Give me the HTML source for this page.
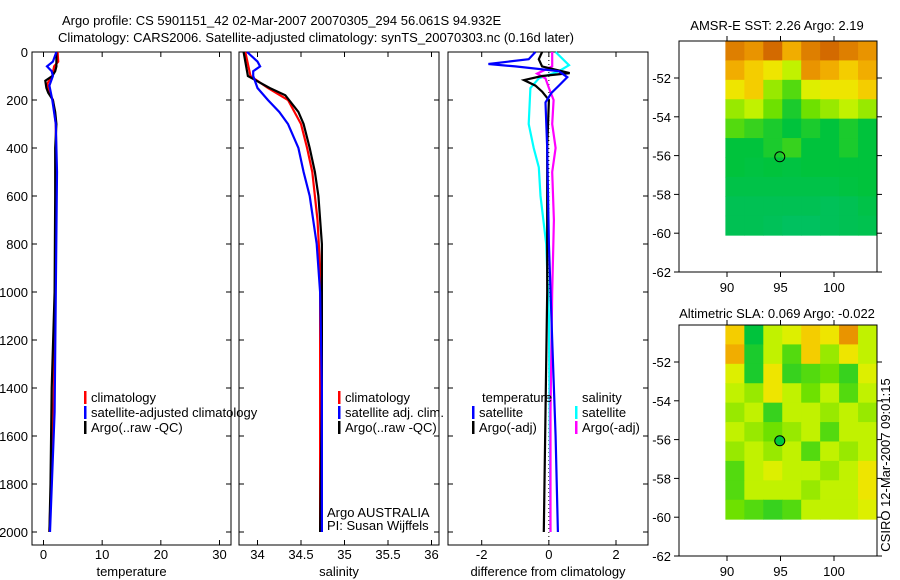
<!DOCTYPE html>
<html><head><meta charset="utf-8"><style>
html,body{margin:0;padding:0;background:#fff;width:900px;height:580px;overflow:hidden}
svg{display:block;font-family:"Liberation Sans",sans-serif;font-size:13px}
</style></head><body>
<svg id="fig" width="900" height="580" viewBox="0 0 900 580">
<text x="62" y="25">Argo profile: CS 5901151_42 02-Mar-2007 20070305_294 56.061S 94.932E</text>
<text x="58" y="42">Climatology: CARS2006. Satellite-adjusted climatology: synTS_20070303.nc (0.16d later)</text>
<text x="777" y="30" text-anchor="middle">AMSR-E SST: 2.26 Argo: 2.19</text>
<text x="777" y="318" text-anchor="middle">Altimetric SLA: 0.069 Argo: -0.022</text>
<text transform="translate(890,465) rotate(-90)" text-anchor="middle">CSIRO 12-Mar-2007 09:01:15</text>
<g id="g"></g>
</svg>
<script>
// ---- data ----
const depthTicks=[0,200,400,600,800,1000,1200,1400,1600,1800,2000];
const tempTicks=[0,10,20,30];
const salTicks=[34,34.5,35,35.5,36];
const diffTicks=[-2,0,2];
const tempClimDepth=[0,40,60,100,130,160,200,300,500,1000,1500,2000];
const tempClim=[2.4,2.5,1.8,1.5,0.7,0.8,1.6,2.1,2.2,2.0,1.7,1.0];
const tempSatDepth=[0,40,60,80,100,140,200,300,500,1000,1500,2000];
const tempSat=[2.2,1.6,0.6,1.4,1.6,1.0,1.5,2.1,2.3,2.1,1.9,1.1];
const tempArgoDepth=[0,60,80,100,120,150,170,200,250,300,400,600,1000,1400,1800,2000];
const tempArgo=[2.2,2.2,2.0,1.5,0.3,0.5,0.8,1.6,2.0,2.2,2.0,2.0,1.9,1.4,1.2,1.0];
const salClimDepth=[0,100,150,200,300,400,500,700,900,2000];
const salClim=[33.86,33.92,34.12,34.35,34.5,34.57,34.63,34.69,34.72,34.72];
const salSatDepth=[0,40,60,80,100,150,200,250,300,400,500,600,800,1000,1400,2000];
const salSat=[33.88,34.0,34.03,33.95,33.95,34.0,34.12,34.25,34.35,34.47,34.53,34.6,34.68,34.72,34.74,34.74];
const salArgoDepth=[0,100,150,180,250,300,400,500,600,800,1000,1400,2000];
const salArgo=[33.84,33.89,34.14,34.32,34.47,34.53,34.6,34.66,34.7,34.74,34.74,34.74,34.72];
const dTSatDepth=[0,30,50,60,80,105,140,170,210,400,800,1200,1600,2000];
const dTSat=[-0.4,-0.6,-1.8,-1.0,0.3,0.55,0.3,0.08,-0.1,-0.05,0,0.1,0.2,0.27];
const dTArgoDepth=[0,30,60,88,100,117,140,165,200,400,1000,1500,2000];
const dTArgo=[-0.2,-0.3,-0.2,0.62,-0.2,-0.74,-0.4,-0.2,0,-0.05,-0.05,-0.1,-0.15];
const dSSatDepth=[0,55,80,110,150,300,400,480,600,800,1100,2000];
const dSSat=[0.2,0.6,0.3,-0.3,-0.55,-0.6,-0.45,-0.3,-0.25,-0.08,0,0.05];
const dSArgoDepth=[0,60,90,110,150,200,300,400,500,700,1000,1500,2000];
const dSArgo=[0.1,0.1,-0.35,-0.1,0,0.14,0.1,0.2,0.1,0.15,0.1,0.05,0.05];
const latTicks=[-52,-54,-56,-58,-60,-62];
const lonTicks=[90,95,100];
const sstGrid=[
[.9,.85,.95,.8,.9,.95,.9,.85],[.8,.75,.7,.6,.85,.8,.75,.8],[.7,.75,.55,.45,.65,.7,.7,.75],
[.55,.6,.5,.35,.5,.55,.6,.55],[.45,.4,.35,.3,.35,.3,.35,.3],[.3,.3,.35,.4,.3,.3,.35,.3],
[.3,.28,.3,.28,.3,.3,.3,.3],[.25,.25,.25,.25,.25,.25,.28,.3],[.2,.2,.2,.2,.2,.18,.2,.25],[.2,.2,.18,.15,.15,.18,.2,.22]];
const slaGrid=[
[.75,.3,.6,.65,.75,.7,.85,.6],[.8,.35,.6,.45,.75,.55,.7,.6],[.65,.35,.7,.4,.45,.5,.4,.65],
[.6,.55,.7,.6,.5,.6,.45,.6],[.55,.6,.4,.6,.6,.55,.6,.55],[.6,.55,.5,.55,.6,.45,.6,.6],
[.55,.6,.55,.6,.45,.6,.55,.6],[.45,.6,.65,.6,.6,.55,.6,.7],[.45,.6,.6,.6,.55,.6,.6,.7],[.5,.45,.4,.45,.6,.6,.6,.65]];
const argoLon=94.932, argoLat=-56.061;

// ---- drawing ----
const NS="http://www.w3.org/2000/svg";
const G=document.getElementById('g');
function el(tag,attrs,parent){const e=document.createElementNS(NS,tag);for(const k in attrs)e.setAttribute(k,attrs[k]);(parent||G).appendChild(e);return e;}
const top0=52, pxPerM=0.24, bot=545;
const yD=d=>top0+d*pxPerM;
function lin(d0,d1,p0,p1){return v=>p0+(v-d0)*(p1-p0)/(d1-d0);}
const panels=[
 {name:'temperature-panel',x0:32,x1:231,sx:lin(0,30,43.5,219.5),ticks:tempTicks,label:'temperature',lab:'temperature-axis-label'},
 {name:'salinity-panel',x0:239,x1:439,sx:lin(34,36,257.5,431.5),ticks:salTicks,label:'salinity',lab:'salinity-axis-label'},
 {name:'difference-panel',x0:448,x1:648,sx:lin(-2,2,481.7,616),ticks:diffTicks,label:'difference from climatology',lab:'difference-axis-label'}];
panels.forEach((p,i)=>{
 const r=el('rect',{x:p.x0,y:top0,width:p.x1-p.x0,height:bot-top0,fill:'none',stroke:'#000','stroke-width':1});
 
 
 p.ticks.forEach(t=>{const x=p.sx(t);
  el('line',{x1:x,y1:bot,x2:x,y2:bot-5,stroke:'#000'});
  el('line',{x1:x,y1:top0,x2:x,y2:top0+5,stroke:'#000'});
  const tx=el('text',{x:x,y:bot+14,'text-anchor':'middle'});tx.textContent=t;
  
  
 });
 depthTicks.forEach(d=>{const y=yD(d);
  el('line',{x1:p.x0,y1:y,x2:p.x0+5,y2:y,stroke:'#000'});
  el('line',{x1:p.x1,y1:y,x2:p.x1-5,y2:y,stroke:'#000'});
  if(i===0){const tx=el('text',{x:28,y:y+5,'text-anchor':'end'});tx.textContent=d;
   
   }
 });
 const lb=el('text',{x:(p.x0+p.x1)/2,y:576,'text-anchor':'middle'});lb.textContent=p.label;
 
 
});
function series(p,depths,vals,color,name){
 const pts=depths.map((d,k)=>p.sx(vals[k]).toFixed(1)+','+yD(d).toFixed(1)).join(' ');
 const l=el('polyline',{points:pts,fill:'none',stroke:color,'stroke-width':2.2});
 
 
}
// zero dotted line in diff panel
el('line',{x1:panels[2].sx(0),y1:top0,x2:panels[2].sx(0),y2:bot,stroke:'#000','stroke-dasharray':'1,3'});
series(panels[0],tempClimDepth,tempClim,'#f00','temp-climatology-line');
series(panels[0],tempArgoDepth,tempArgo,'#000','temp-argo-line');
series(panels[0],tempSatDepth,tempSat,'#00f','temp-satellite-line');
series(panels[1],salClimDepth,salClim,'#f00','sal-climatology-line');
series(panels[1],salArgoDepth,salArgo,'#000','sal-argo-line');
series(panels[1],salSatDepth,salSat,'#00f','sal-satellite-line');
series(panels[2],dSSatDepth,dSSat,'#0ff','diff-sal-satellite-line');
series(panels[2],dSArgoDepth,dSArgo,'#f0f','diff-sal-argo-line');
series(panels[2],dTArgoDepth,dTArgo,'#000','diff-temp-argo-line');
series(panels[2],dTSatDepth,dTSat,'#00f','diff-temp-satellite-line');
// legends
function leg(x,y,color,text,name){
 if(color) el('rect',{x:x,y:y-11,width:2.5,height:13,fill:color});
 const t=el('text',{x:x+7,y:y});t.textContent=text;
 
 
}
leg(84,402,'#f00','climatology','legend-climatology');
leg(84,417,'#00f','satellite-adjusted climatology','legend-satellite-adjusted');
leg(84,432,'#000','Argo(..raw -QC)','legend-argo');
leg(338,402,'#f00','climatology','legend-sal-climatology');
leg(338,417,'#00f','satellite adj. clim.','legend-sal-satellite');
leg(338,432,'#000','Argo(..raw -QC)','legend-sal-argo');
leg(475,402,null,'temperature','legend-temperature-heading');
leg(472,417,'#00f','satellite','legend-temp-satellite');
leg(472,432,'#000','Argo(-adj)','legend-temp-argo');
leg(575,402,null,'salinity','legend-salinity-heading');
leg(575,417,'#0ff','satellite','legend-sal-satellite-diff');
leg(575,432,'#f0f','Argo(-adj)','legend-sal-argo-diff');
const a1=el('text',{x:327,y:517});a1.textContent='Argo AUSTRALIA';


const a2=el('text',{x:327,y:530});a2.textContent='PI: Susan Wijffels';


// maps
function cmap(v){
 const stops=[[0,[0,190,130]],[0.3,[0,195,60]],[0.5,[110,225,0]],[0.62,[210,245,0]],[0.72,[245,225,0]],[0.82,[240,160,0]],[1,[200,85,0]]];
 for(let i=1;i<stops.length;i++){if(v<=stops[i][0]){const a=stops[i-1],b=stops[i];const t=(v-a[0])/(b[0]-a[0]);
  return 'rgb('+a[1].map((c,k)=>Math.round(c+(b[1][k]-c)*t)).join(',')+')';}}
 return 'rgb(200,85,0)';
}
function map(top,name,grid,dotFill){
 const x0=679,x1=877,bottom=top+231;
 const sx=lin(90,100,727,834), sy=lin(-52,-62,top+37,bottom);
 const imgL=sx(89.85), imgR=x1, imgT=top, imgB=sy(-60.1);
 const rows=grid.length, cols=grid[0].length, cw=(imgR-imgL)/cols, ch=(imgB-imgT)/rows;
 grid.forEach((row,r)=>row.forEach((v,c)=>{
  const cell=el('rect',{x:(imgL+c*cw).toFixed(2),y:(imgT+r*ch).toFixed(2),width:(cw+0.5).toFixed(2),height:(ch+0.5).toFixed(2),fill:cmap(v)});
  
  
 }));
 const f=el('rect',{x:x0,y:top,width:x1-x0,height:bottom-top,fill:'none',stroke:'#000'});
 
 
 latTicks.forEach(t=>{const y=sy(t);
  el('line',{x1:x0,y1:y,x2:x0-5,y2:y,stroke:'#000'});
  el('line',{x1:x1,y1:y,x2:x1+5,y2:y,stroke:'#000'});
  const tx=el('text',{x:x0-8,y:y+5,'text-anchor':'end'});tx.textContent=t;
  
  });
 lonTicks.forEach(t=>{const x=sx(t);
  el('line',{x1:x,y1:bottom,x2:x,y2:bottom+5,stroke:'#000'});
  el('line',{x1:x,y1:top,x2:x,y2:top-5,stroke:'#000'});
  const tx=el('text',{x:x,y:bottom+20,'text-anchor':'middle'});tx.textContent=t;
  
  });
 const dot=el('circle',{cx:sx(argoLon),cy:sy(argoLat),r:5,fill:dotFill,stroke:'#000'});
 
 
}
map(41,'sst-map',sstGrid,'none');
map(325,'sla-map',slaGrid,'rgb(0,200,60)');
</script>
</body></html>
